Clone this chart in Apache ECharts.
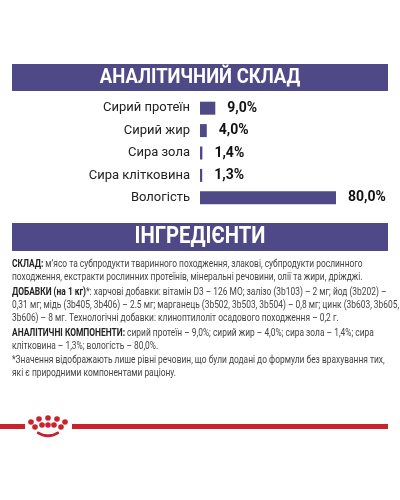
<!DOCTYPE html><html><head><meta charset="utf-8">
<script src="https://cdn.jsdelivr.net/npm/echarts@6/dist/echarts.min.js"></script>
<style>html,body{margin:0;background:#fff}#c{width:400px;height:500px}</style></head><body><div id="c"></div>
<script>
const categories=['Сирий протеїн','Сирий жир','Сира зола','Сира клітковина','Вологість'];
const values=[9.0,4.0,1.4,1.3,80.0];
const labels=['9,0%','4,0%','1,4%','1,3%','80,0%'];
const F='Roboto,sans-serif';
const P='#4f4a87';
const textLines=[
 '{b|СКЛАД:} м’ясо та субпродукти тваринного походження, злакові, субпродукти рослинного',
 'походження, екстракти рослинних протеїнів, мінеральні речовини, олії та жири, дріжджі.',
 '{b|ДОБАВКИ (на 1 кг)}*: харчові добавки: вітамін D3 – 126 МО; залізо (3b103) – 2 мг; йод (3b202) –',
 '0,31 мг; мідь (3b405, 3b406) – 2.5 мг; марганець (3b502, 3b503, 3b504) – 0,8 мг; цинк (3b603, 3b605,',
 '3b606) – 8 мг. Технологічні добавки: клиноптилоліт осадового походження – 0,2 г.',
 '{b|АНАЛІТИЧНІ КОМПОНЕНТИ:} сирий протеїн – 9,0%; сирий жир – 4,0%; сира зола – 1,4%; сира',
 'клітковина – 1,3%; вологість – 80,0%.',
 '*Значення відображають лише рівні речовин, що були додані до формули без врахування тих,',
 'які є природними компонентами раціону.'];
const ys=[264,277,292,305,318,333,346,360,373];
const g=[
 {type:'rect',shape:{x:12,y:64,width:376,height:27},style:{fill:P}},
 {type:'text',x:200,y:77.5,scaleX:0.88,style:{text:'АНАЛІТИЧНИЙ СКЛАД',fill:'#fff',font:'bold 21px '+F,align:'center',verticalAlign:'middle'}},
 {type:'rect',shape:{x:12,y:223,width:376,height:28},style:{fill:P}},
 {type:'text',x:200,y:237,scaleX:0.88,style:{text:'ІНГРЕДІЄНТИ',fill:'#fff',font:'bold 23px '+F,align:'center',verticalAlign:'middle'}},
 {type:'rect',shape:{x:0,y:424,width:25,height:5},style:{fill:'#c8232c'}},
 {type:'rect',shape:{x:72,y:424,width:316,height:5},style:{fill:'#c8232c'}},
 {type:'arc',shape:{cx:48,cy:418,r:18,startAngle:Math.PI*0.3,endAngle:Math.PI*0.7},style:{stroke:'#c8232c',lineWidth:2.5,fill:null}},
 {type:'arc',shape:{cx:48,cy:414,r:21,startAngle:Math.PI*0.33,endAngle:Math.PI*0.67},style:{stroke:'#c8232c',lineWidth:1.5,fill:null}}
];
[[48,419],[39,420],[57,420],[31,423],[65,423],[35,428],[61,428],[42,426],[54,426],[48,426]].forEach(p=>g.push({type:'circle',shape:{cx:p[0],cy:p[1]-1,r:2.8},style:{fill:'#c8232c'}}));
textLines.forEach((t,i)=>g.push({type:'text',x:12,y:ys[i],scaleX:0.8,style:{text:t,font:'10.5px '+F,fill:'#444',verticalAlign:'middle',rich:{b:{font:'bold 10.5px '+F,fill:'#222'}}}}));
const ch=echarts.init(document.getElementById('c'));
ch.setOption({animation:false,
 grid:{left:200,width:136,top:97,height:112},
 xAxis:{type:'value',min:0,max:80,show:false},
 yAxis:{type:'category',inverse:true,data:categories,axisLine:{show:false},axisTick:{show:false},
  axisLabel:{fontFamily:F,fontSize:13,color:'#222',margin:10}},
 series:[{type:'bar',data:values,barWidth:13,itemStyle:{color:P},
  label:{show:true,position:'right',distance:12,fontFamily:F,fontWeight:'bold',fontSize:14,color:'#111',
   formatter:p=>labels[p.dataIndex]}}],
 graphic:g});
</script></body></html>
